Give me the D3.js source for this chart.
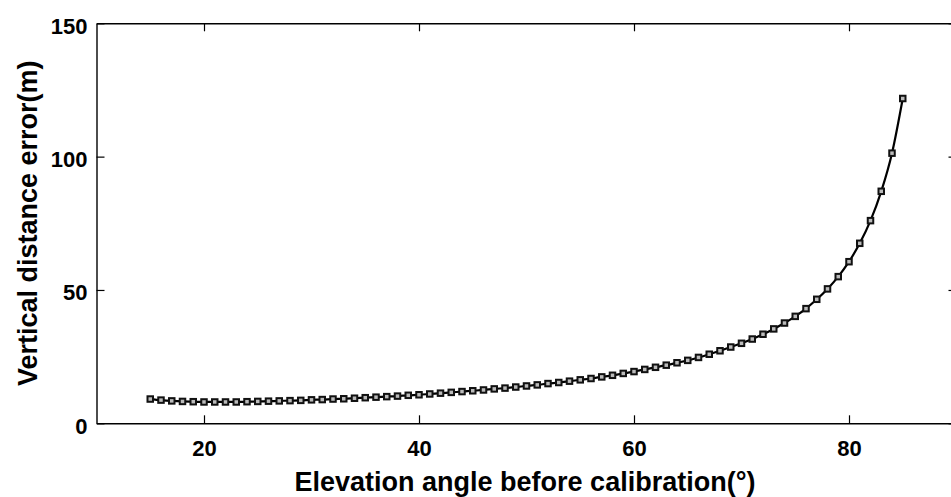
<!DOCTYPE html>
<html>
<head>
<meta charset="utf-8">
<script src="https://cdn.jsdelivr.net/npm/d3@7"></script>
<style>
  html, body { margin: 0; padding: 0; background: #fff; }
  svg { display: block; }
  text { font-family: "Liberation Sans", Arial, sans-serif; font-weight: bold; fill: #000; }
</style>
</head>
<body>
<svg id="chart" width="951" height="497"></svg>
<script>
// Elevation angle before calibration (degrees)
const angles = d3.range(15, 86);
// Vertical distance error (m) at each angle
const errors = [
  9.1, 8.7, 8.4, 8.2, 8.1, 8.0, 8.0, 8.0, 8.0, 8.1,
  8.2, 8.3, 8.4, 8.5, 8.6, 8.8, 8.9, 9.1, 9.2, 9.4,
  9.6, 9.8, 10.0, 10.2, 10.5, 10.7, 11.0, 11.3, 11.6, 11.9,
  12.2, 12.5, 12.9, 13.2, 13.6, 14.0, 14.4, 14.9, 15.3, 15.8,
  16.3, 16.8, 17.4, 18.0, 18.7, 19.4, 20.2, 21.0, 21.8, 22.7,
  23.6, 24.7, 25.9, 27.2, 28.6, 30.0, 31.6, 33.4, 35.4, 37.6,
  40.1, 43.0, 46.5, 50.4, 55.0, 60.6, 67.5, 76.0, 87.0, 101.3,
  121.8
];
const xTicks = [20, 40, 60, 80];
const yTicks = [0, 50, 100, 150];
const xDomain = [10, 90];
const yDomain = [0, 150];
const xLabel = "Elevation angle before calibration(°)";
const yLabel = "Vertical distance error(m)";

const data = angles.map((a, i) => ({ x: a, y: errors[i] }));

const svg = d3.select("#chart");
const frame = { left: 96.5, top: 23.3, right: 956.5, bottom: 423.3 };

const x = d3.scaleLinear().domain(xDomain).range([frame.left, frame.right]);
const y = d3.scaleLinear().domain(yDomain).range([frame.bottom, frame.top]);

const tickLen = 8;
const axisStyle = g => {
  g.selectAll("path.domain").attr("stroke", "#000").attr("stroke-width", 1.4);
  g.selectAll(".tick line").attr("stroke", "#000").attr("stroke-width", 1.2);
  g.selectAll(".tick text")
    .style("font-size", "22px")
    .style("font-weight", "bold")
    .style("font-family", "'Liberation Sans', Arial, sans-serif")
    .attr("fill", "#000");
};

// bottom axis, ticks pointing inward
svg.append("g")
  .attr("transform", `translate(0,${frame.bottom})`)
  .call(d3.axisBottom(x).tickValues(xTicks).tickSizeInner(-tickLen).tickSizeOuter(0).tickPadding(17))
  .call(axisStyle);

// top axis, ticks only
svg.append("g")
  .attr("transform", `translate(0,${frame.top})`)
  .call(d3.axisTop(x).tickValues(xTicks).tickSizeInner(-tickLen).tickSizeOuter(0).tickFormat(""))
  .call(axisStyle);

// left axis
svg.append("g")
  .attr("transform", `translate(${frame.left},0)`)
  .call(d3.axisLeft(y).tickValues(yTicks).tickSizeInner(-tickLen).tickSizeOuter(0).tickPadding(9))
  .call(axisStyle)
  .call(g => g.selectAll(".tick text").attr("dy", "0.45em"));

// right axis, ticks only
svg.append("g")
  .attr("transform", `translate(${frame.right},0)`)
  .call(d3.axisRight(y).tickValues(yTicks).tickSizeInner(-tickLen).tickSizeOuter(0).tickFormat(""))
  .call(axisStyle);

// error curve
const line = d3.line().x(d => x(d.x)).y(d => y(d.y)).curve(d3.curveMonotoneX);
svg.append("path")
  .datum(data)
  .attr("fill", "none")
  .attr("stroke", "#000")
  .attr("stroke-width", 2.2)
  .attr("d", line);

// square markers
const ms = 5.5;
svg.append("g")
  .selectAll("rect")
  .data(data)
  .join("rect")
  .attr("x", d => x(d.x) - ms / 2)
  .attr("y", d => y(d.y) - ms / 2)
  .attr("width", ms)
  .attr("height", ms)
  .attr("fill", "#bbb")
  .attr("stroke", "#111")
  .attr("stroke-width", 2);

// axis titles
svg.append("text")
  .attr("x", 525)
  .attr("y", 491)
  .attr("text-anchor", "middle")
  .style("font-size", "27px")
  .text(xLabel);

svg.append("text")
  .attr("transform", `translate(37,${(frame.top + frame.bottom) / 2}) rotate(-90)`)
  .attr("text-anchor", "middle")
  .style("font-size", "27px")
  .text(yLabel);
</script>
</body>
</html>
